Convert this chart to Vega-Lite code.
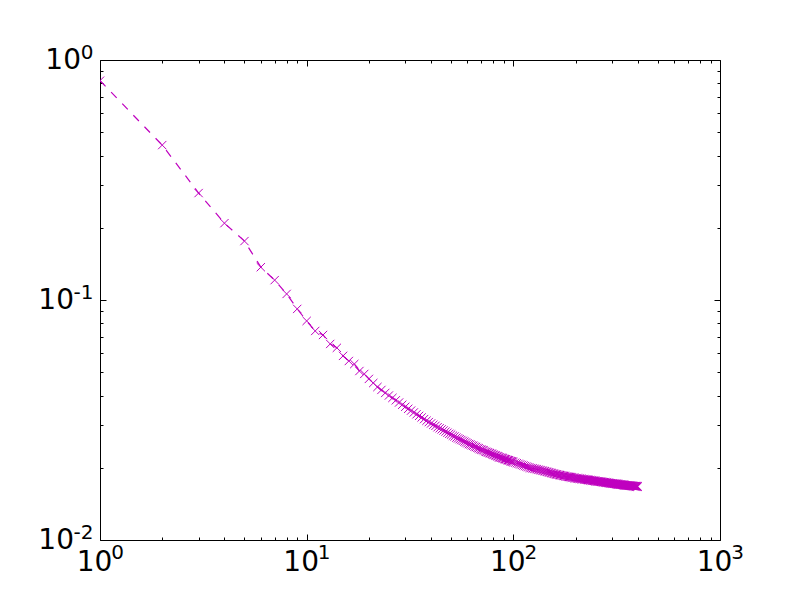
{
  "$schema": "https://vega.github.io/schema/vega-lite/v6.json",
  "width": 620,
  "height": 480,
  "autosize": {"type": "none"},
  "padding": {"left": 100, "top": 60, "right": 80, "bottom": 60},
  "background": "white",
  "config": {
    "view": {"stroke": "black", "strokeWidth": 1},
    "axis": {"grid": false, "domain": false, "tickColor": "black", "tickWidth": 1, "labelColor": "black", "labelFont": "DejaVu Sans", "labelFontSize": 28, "labelFlush": false, "labelOverlap": false, "title": null}
  },
  "data": {"values": [
    {"x":1,"y":0.82},{"x":2,"y":0.442},{"x":3,"y":0.279},{"x":4,"y":0.209},{"x":5,"y":0.176},
    {"x":6,"y":0.137},{"x":7,"y":0.121},{"x":8,"y":0.106},{"x":9,"y":0.0918},{"x":10,"y":0.0818},
    {"x":11,"y":0.0743},{"x":12,"y":0.0715},{"x":13,"y":0.0656},{"x":14,"y":0.0632},{"x":15,"y":0.0585},
    {"x":16,"y":0.0557},{"x":17,"y":0.0541},{"x":18,"y":0.0506},{"x":19,"y":0.0492},{"x":20,"y":0.0469},
    {"x":21,"y":0.0451},{"x":22,"y":0.0434},{"x":23,"y":0.0422},{"x":24,"y":0.041},{"x":25,"y":0.04},
    {"x":26,"y":0.0391},{"x":27,"y":0.0382},{"x":28,"y":0.0374},{"x":29,"y":0.0366},{"x":30,"y":0.0359},
    {"x":31,"y":0.0352},{"x":32,"y":0.0346},{"x":33,"y":0.034},{"x":34,"y":0.0334},{"x":35,"y":0.0329},
    {"x":36,"y":0.0324},{"x":37,"y":0.0319},{"x":38,"y":0.0314},{"x":39,"y":0.031},{"x":40,"y":0.0306},
    {"x":41,"y":0.0302},{"x":42,"y":0.0299},{"x":43,"y":0.0295},{"x":44,"y":0.0292},{"x":45,"y":0.0289},
    {"x":46,"y":0.0286},{"x":47,"y":0.0283},{"x":48,"y":0.028},{"x":49,"y":0.0277},{"x":50,"y":0.0275},
    {"x":51,"y":0.0272},{"x":52,"y":0.027},{"x":53,"y":0.0267},{"x":54,"y":0.0265},{"x":55,"y":0.0263},
    {"x":56,"y":0.0261},{"x":57,"y":0.0259},{"x":58,"y":0.0257},{"x":59,"y":0.0255},{"x":60,"y":0.0253},
    {"x":61,"y":0.0251},{"x":62,"y":0.025},{"x":63,"y":0.0248},{"x":64,"y":0.0247},{"x":65,"y":0.0245},
    {"x":66,"y":0.0244},{"x":67,"y":0.0242},{"x":68,"y":0.0241},{"x":69,"y":0.0239},{"x":70,"y":0.0238},
    {"x":71,"y":0.0237},{"x":72,"y":0.0236},{"x":73,"y":0.0234},{"x":74,"y":0.0233},{"x":75,"y":0.0232},
    {"x":76,"y":0.0231},{"x":77,"y":0.023},{"x":78,"y":0.0229},{"x":79,"y":0.0228},{"x":80,"y":0.0227},
    {"x":81,"y":0.0226},{"x":82,"y":0.0225},{"x":83,"y":0.0224},{"x":84,"y":0.0223},{"x":85,"y":0.0222},
    {"x":86,"y":0.0221},{"x":87,"y":0.022},{"x":88,"y":0.022},{"x":89,"y":0.0219},{"x":90,"y":0.0218},
    {"x":91,"y":0.0217},{"x":92,"y":0.0217},{"x":93,"y":0.0216},{"x":94,"y":0.0215},{"x":95,"y":0.0215},
    {"x":96,"y":0.0214},{"x":97,"y":0.0213},{"x":98,"y":0.0213},{"x":99,"y":0.0212},{"x":100,"y":0.0211},
    {"x":102,"y":0.02099},{"x":104,"y":0.02088},{"x":106,"y":0.02077},{"x":108,"y":0.02066},{"x":110,"y":0.02055},
    {"x":112,"y":0.02044},{"x":114,"y":0.02033},{"x":116,"y":0.02022},{"x":118,"y":0.02011},{"x":120,"y":0.02},
    {"x":122,"y":0.01994},{"x":124,"y":0.01988},{"x":126,"y":0.01982},{"x":128,"y":0.01976},{"x":130,"y":0.0197},
    {"x":132,"y":0.01964},{"x":134,"y":0.01958},{"x":136,"y":0.01952},{"x":138,"y":0.01946},{"x":140,"y":0.0194},
    {"x":142,"y":0.01934},{"x":144,"y":0.01928},{"x":146,"y":0.01922},{"x":148,"y":0.01916},{"x":150,"y":0.0191},
    {"x":152,"y":0.01904},{"x":154,"y":0.01898},{"x":156,"y":0.01892},{"x":158,"y":0.01886},{"x":160,"y":0.0188},
    {"x":162,"y":0.01876},{"x":164,"y":0.01872},{"x":166,"y":0.01868},{"x":168,"y":0.01864},{"x":170,"y":0.0186},
    {"x":172,"y":0.01856},{"x":174,"y":0.01852},{"x":176,"y":0.01848},{"x":178,"y":0.01844},{"x":180,"y":0.0184},
    {"x":182,"y":0.01837},{"x":184,"y":0.01834},{"x":186,"y":0.01831},{"x":188,"y":0.01828},{"x":190,"y":0.01825},
    {"x":192,"y":0.01822},{"x":194,"y":0.01819},{"x":196,"y":0.01816},{"x":198,"y":0.01813},{"x":200,"y":0.0181},
    {"x":202,"y":0.01808},{"x":204,"y":0.01806},{"x":206,"y":0.01804},{"x":208,"y":0.01802},{"x":210,"y":0.018},
    {"x":212,"y":0.01798},{"x":214,"y":0.01796},{"x":216,"y":0.01794},{"x":218,"y":0.01792},{"x":220,"y":0.0179},
    {"x":222,"y":0.01788},{"x":224,"y":0.01786},{"x":226,"y":0.01784},{"x":228,"y":0.01782},{"x":230,"y":0.0178},
    {"x":232,"y":0.01778},{"x":234,"y":0.01776},{"x":236,"y":0.01774},{"x":238,"y":0.01772},{"x":240,"y":0.0177},
    {"x":242,"y":0.01768},{"x":244,"y":0.01766},{"x":246,"y":0.01764},{"x":248,"y":0.01762},{"x":250,"y":0.0176},
    {"x":252,"y":0.01758},{"x":254,"y":0.01757},{"x":256,"y":0.01755},{"x":258,"y":0.01754},{"x":260,"y":0.01752},
    {"x":262,"y":0.0175},{"x":264,"y":0.01749},{"x":266,"y":0.01747},{"x":268,"y":0.01746},{"x":270,"y":0.01744},
    {"x":272,"y":0.01742},{"x":274,"y":0.01741},{"x":276,"y":0.01739},{"x":278,"y":0.01738},{"x":280,"y":0.01736},
    {"x":282,"y":0.01734},{"x":284,"y":0.01733},{"x":286,"y":0.01731},{"x":288,"y":0.0173},{"x":290,"y":0.01728},
    {"x":292,"y":0.01726},{"x":294,"y":0.01725},{"x":296,"y":0.01723},{"x":298,"y":0.01722},{"x":300,"y":0.0172},
    {"x":302,"y":0.01719},{"x":304,"y":0.01718},{"x":306,"y":0.01716},{"x":308,"y":0.01715},{"x":310,"y":0.01714},
    {"x":312,"y":0.01713},{"x":314,"y":0.01712},{"x":316,"y":0.0171},{"x":318,"y":0.01709},{"x":320,"y":0.01708},
    {"x":322,"y":0.01707},{"x":324,"y":0.01706},{"x":326,"y":0.01704},{"x":328,"y":0.01703},{"x":330,"y":0.01702},
    {"x":332,"y":0.01701},{"x":334,"y":0.017},{"x":336,"y":0.01698},{"x":338,"y":0.01697},{"x":340,"y":0.01696},
    {"x":342,"y":0.01695},{"x":344,"y":0.01694},{"x":346,"y":0.01692},{"x":348,"y":0.01691},{"x":350,"y":0.0169},
    {"x":352,"y":0.01689},{"x":354,"y":0.01688},{"x":356,"y":0.01688},{"x":358,"y":0.01687},{"x":360,"y":0.01686},
    {"x":362,"y":0.01685},{"x":364,"y":0.01684},{"x":366,"y":0.01684},{"x":368,"y":0.01683},{"x":370,"y":0.01682},
    {"x":372,"y":0.01681},{"x":374,"y":0.0168},{"x":376,"y":0.0168},{"x":378,"y":0.01679},{"x":380,"y":0.01678},
    {"x":382,"y":0.01677},{"x":384,"y":0.01676},{"x":386,"y":0.01676},{"x":388,"y":0.01675},{"x":390,"y":0.01674},
    {"x":392,"y":0.01673},{"x":394,"y":0.01672},{"x":396,"y":0.01672},{"x":398,"y":0.01671},{"x":400,"y":0.0167}
  ]},
  "resolve": {"axis": {"x": "independent", "y": "independent"}},
  "layer": [
    {
      "mark": {"type": "line", "color": "#bf00bf", "strokeWidth": 1.2, "strokeDash": [8, 8], "clip": true},
      "encoding": {
        "x": {"field": "x", "type": "quantitative",
          "scale": {"type": "log", "domain": [1, 1000], "nice": false},
          "axis": {"orient": "bottom",
            "values": [1,2,3,4,5,6,7,8,9,10,20,30,40,50,60,70,80,90,100,200,300,400,500,600,700,800,900,1000],
            "tickSize": {"condition": {"test": "indexof([1,10,100,1000], datum.value) >= 0", "value": -6}, "value": -3},
            "labelPadding": 14,
            "labelOffset": -6,
            "labelExpr": "indexof([1,10,100,1000], datum.value) >= 0 ? '10' : ''"}},
        "y": {"field": "y", "type": "quantitative",
          "scale": {"type": "log", "domain": [0.01, 1], "nice": false},
          "axis": {"orient": "left",
            "values": [0.01,0.02,0.03,0.04,0.05,0.06,0.07,0.08,0.09,0.1,0.2,0.3,0.4,0.5,0.6,0.7,0.8,0.9,1],
            "tickSize": {"condition": {"test": "indexof([0.01,0.1,1], datum.value) >= 0", "value": -6}, "value": -3},
            "labelPadding": {"condition": {"test": "datum.value == 1", "value": 25.5}, "value": 32.5},
            "labelOffset": 0,
            "labelExpr": "indexof([0.01,0.1,1], datum.value) >= 0 ? '10' : ''"}}
      }
    },
    {
      "mark": {"type": "point", "shape": "M-1,-1L1,1M-1,1L1,-1", "filled": false, "color": "#bf00bf", "strokeWidth": 1, "size": 69, "opacity": 1, "clip": true},
      "encoding": {
        "x": {"field": "x", "type": "quantitative",
          "scale": {"type": "log", "domain": [1, 1000], "nice": false},
          "axis": {"orient": "top", "labels": false,
            "values": [1,2,3,4,5,6,7,8,9,10,20,30,40,50,60,70,80,90,100,200,300,400,500,600,700,800,900,1000],
            "tickSize": {"condition": {"test": "indexof([1,10,100,1000], datum.value) >= 0", "value": -6}, "value": -3}}},
        "y": {"field": "y", "type": "quantitative",
          "scale": {"type": "log", "domain": [0.01, 1], "nice": false},
          "axis": {"orient": "right", "labels": false,
            "values": [0.01,0.02,0.03,0.04,0.05,0.06,0.07,0.08,0.09,0.1,0.2,0.3,0.4,0.5,0.6,0.7,0.8,0.9,1],
            "tickSize": {"condition": {"test": "indexof([0.01,0.1,1], datum.value) >= 0", "value": -6}, "value": -3}}}
      }
    },
    {
      "mark": {"type": "point", "opacity": 0, "clip": true},
      "encoding": {
        "x": {"field": "x", "type": "quantitative",
          "scale": {"type": "log", "domain": [1, 1000], "nice": false},
          "axis": {"orient": "bottom", "ticks": false, "tickSize": 0,
            "values": [1,10,100,1000],
            "labelFontSize": 20,
            "labelPadding": 2,
            "labelOffset": 17,
            "labelExpr": "datum.value == 1 ? '0' : datum.value == 10 ? '1' : datum.value == 100 ? '2' : '3'"}},
        "y": {"field": "y", "type": "quantitative",
          "scale": {"type": "log", "domain": [0.01, 1], "nice": false},
          "axis": {"orient": "left", "ticks": false, "tickSize": 0,
            "values": [0.01,0.1,1],
            "labelFontSize": 20,
            "labelPadding": 7,
            "labelOffset": -8,
            "labelExpr": "datum.value == 1 ? '0' : datum.value == 0.1 ? '-1' : '-2'"}}
      }
    }
  ]
}
